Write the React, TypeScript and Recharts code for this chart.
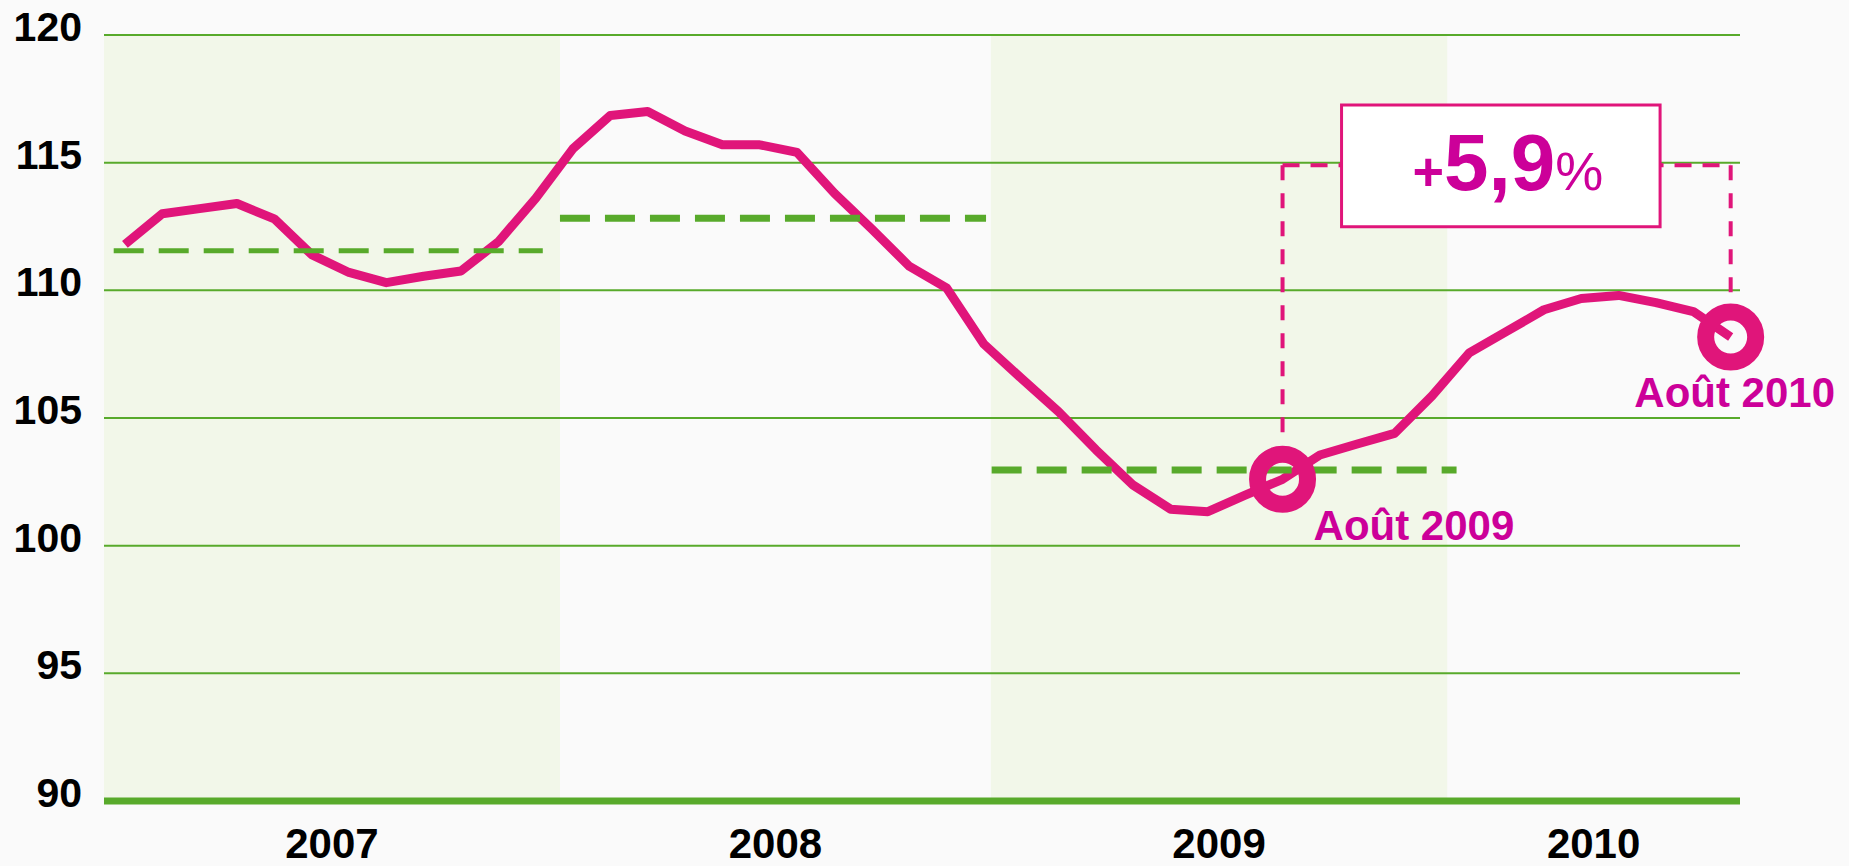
import { LineChart, Line, XAxis, YAxis, ReferenceLine, ReferenceArea, ReferenceDot } from 'recharts';

// Indice mensuel jan. 2007 -> août 2010, moyennes annuelles en tirets verts.
const years = ['2007', '2008', '2009', '2010'];
const yearEdges = [-0.56, 11.65, 23.19, 35.41, 43.25]; // bornes des bandes, en mois depuis jan. 2007
const shadedYears = [true, false, true, false];

const indexValues = [
  111.8, 113.0, 113.2, 113.4, 112.8, 111.4, 110.7, 110.3, 110.55, 110.76, 111.9, 113.6,
  115.55, 116.85, 117.0, 116.24, 115.7, 115.7, 115.4, 113.8, 112.4, 110.95, 110.1, 107.9,
  106.56, 105.25, 103.76, 102.37, 101.43, 101.33, 101.98, 102.6, 103.55, 103.98, 104.4, 105.86,
  107.55, 108.39, 109.24, 109.68, 109.8, 109.52, 109.17, 108.17,
];

const yTicks = [90, 95, 100, 105, 110, 115, 120];
const gridValues = [95, 100, 105, 110, 115, 120];

const avgValues = [111.55, 112.82, 102.96];
const avgStart = [-0.3, 11.65, 23.21];
const avgEnd = [11.19, 23.06, 35.66];

const markerMonths = [31, 43];
const markerLabels = ['Août 2009', 'Août 2010'];

const changeParts = ['+', '5,9', '%'];
const BRACKET_LEVEL = 114.9;
const BOX = { x1: 32.58, x2: 41.11, y1: 112.49, y2: 117.26 };

const PINK = '#E0157A';
const MAGENTA = '#CC0099';
const GREEN = '#58AA2B';
const BAND = '#F2F7E9';
const FONT = '"Liberation Sans", Arial, sans-serif';

const data = indexValues.map((v, i) => ({ m: i, v }));
const yearCenters = years.map((_, i) => (yearEdges[i] + yearEdges[i + 1]) / 2);

function YearTick(props: any) {
  const { x, y, index } = props;
  return (
    <text x={x} y={y + 57} textAnchor="middle" fontFamily={FONT} fontWeight="bold" fontSize={42} fill="#000">
      {years[index]}
    </text>
  );
}

function ValueTick(props: any) {
  const { x, y, payload } = props;
  return (
    <text x={x} y={y + 6} textAnchor="end" fontFamily={FONT} fontWeight="bold" fontSize={41} fill="#000">
      {payload.value}
    </text>
  );
}

function ringShape(i: number) {
  return (p: any) => {
    const { cx, cy } = p;
    const first = i === 0;
    return (
      <g>
        <circle cx={cx} cy={cy} r={25} fill="none" stroke={PINK} strokeWidth={17} />
        <text
          x={first ? cx + 31 : cx + 4}
          y={first ? cy + 61 : cy + 70}
          textAnchor={first ? 'start' : 'middle'}
          fontFamily={FONT}
          fontWeight="bold"
          fontSize={42}
          fill={MAGENTA}
        >
          {markerLabels[i]}
        </text>
      </g>
    );
  };
}

function BoxLabel(props: any) {
  const vb = props.viewBox || {};
  return (
    <text x={vb.x + vb.width / 2 + 7} y={vb.y + 85} textAnchor="middle" fontFamily={FONT} fontWeight="bold" fill={MAGENTA}>
      <tspan fontSize={54}>{changeParts[0]}</tspan>
      <tspan fontSize={80}>{changeParts[1]}</tspan>
      <tspan fontSize={54} fontWeight="normal">{changeParts[2]}</tspan>
    </text>
  );
}

export default function App() {
  return (
    <div style={{ position: 'absolute', left: 0, top: 0, width: 1849, height: 866, background: '#FAFAFA' }}>
      <LineChart width={1849} height={866} data={data} margin={{ top: 35, right: 109, bottom: 0, left: 0 }}>
        {years.map((y, i) =>
          shadedYears[i] ? (
            <ReferenceArea key={y} x1={yearEdges[i]} x2={yearEdges[i + 1]} y1={90} y2={120} fill={BAND} fillOpacity={1} stroke="none" ifOverflow="visible" zIndex={10} />
          ) : null,
        )}
        {gridValues.map((g) => (
          <ReferenceLine key={g} y={g} stroke={GREEN} strokeWidth={2} ifOverflow="visible" zIndex={20} />
        ))}
        <ReferenceLine
          segment={[{ x: markerMonths[0], y: BRACKET_LEVEL }, { x: markerMonths[0], y: indexValues[markerMonths[0]] + 1.4 }]}
          stroke={PINK} strokeWidth={4} strokeDasharray="15 13" ifOverflow="visible" zIndex={30}
        />
        <ReferenceLine
          segment={[{ x: markerMonths[0], y: BRACKET_LEVEL }, { x: markerMonths[1], y: BRACKET_LEVEL }]}
          stroke={PINK} strokeWidth={4} strokeDasharray="17 11" ifOverflow="visible" zIndex={30}
        />
        <ReferenceLine
          segment={[{ x: markerMonths[1], y: BRACKET_LEVEL }, { x: markerMonths[1], y: indexValues[markerMonths[1]] + 1.3 }]}
          stroke={PINK} strokeWidth={4} strokeDasharray="15 13" ifOverflow="visible" zIndex={30}
        />
        <Line type="linear" dataKey="v" stroke={PINK} strokeWidth={9} strokeLinejoin="round" dot={false} activeDot={false} isAnimationActive={false} zIndex={40} />
        {avgValues.map((a, i) => (
          <ReferenceLine
            key={`avg-${i}`}
            segment={[{ x: avgStart[i], y: a }, { x: avgEnd[i], y: a }]}
            stroke={GREEN} strokeWidth={i === 0 ? 5 : 7} strokeDasharray="30 15" ifOverflow="visible" zIndex={50}
          />
        ))}
        {markerMonths.map((m, i) => (
          <ReferenceDot key={`mk-${m}`} x={m} y={indexValues[m]} r={25} shape={ringShape(i)} ifOverflow="visible" zIndex={60} />
        ))}
        <ReferenceArea
          x1={BOX.x1} x2={BOX.x2} y1={BOX.y1} y2={BOX.y2}
          fill="#FFFFFF" fillOpacity={1} stroke={PINK} strokeWidth={3} ifOverflow="visible" zIndex={70}
          label={(p: any) => <BoxLabel {...p} />}
        />
        <XAxis
          dataKey="m" type="number" domain={[yearEdges[0], yearEdges[yearEdges.length - 1]]} allowDataOverflow
          ticks={yearCenters} interval={0} height={65} tickSize={0} tickMargin={0} tickLine={false}
          axisLine={{ stroke: GREEN, strokeWidth: 7 }} tick={(p: any) => <YearTick {...p} />}
        />
        <YAxis
          type="number" domain={[90, 120]} ticks={yTicks} allowDataOverflow width={104} tickSize={0} tickMargin={22}
          axisLine={false} tickLine={false} tick={(p: any) => <ValueTick {...p} />}
        />
      </LineChart>
    </div>
  );
}
